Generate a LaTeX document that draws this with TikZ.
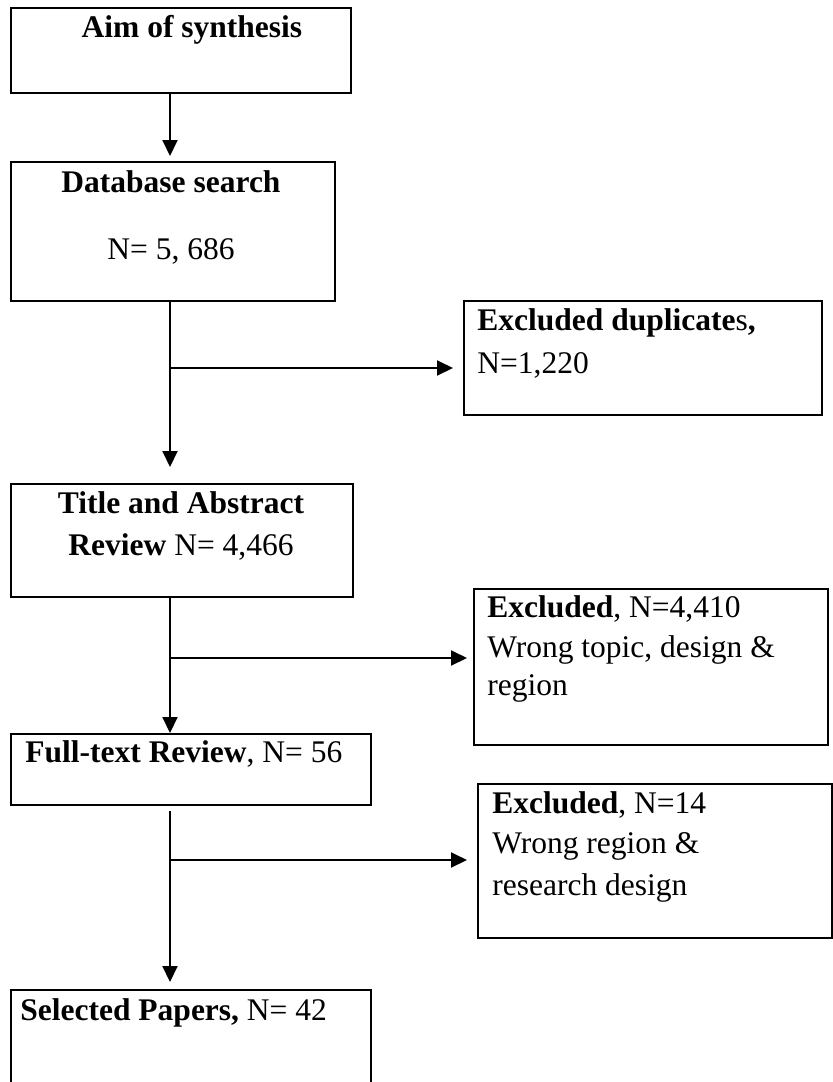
\documentclass[tikz,border=0pt]{standalone}
\usepackage{fontspec}
\setmainfont{Liberation Serif}
\usetikzlibrary{
    arrows.meta,
    positioning
}

\tikzset{
    box/.style={draw, line width=1pt, anchor=north west, inner sep=0pt},
    txt/.style={inner sep=0pt, font=\fontsize{15.75}{20}\selectfont},
    arr/.style={line width=1pt, -{Triangle[length=8pt, width=7.5pt]}}
}

\begin{document}
\begin{tikzpicture}[x=0.5pt, y=-0.5pt]
                        \useasboundingbox (0, 0) rectangle (833, 1082);

                        % boxes of the main column
                        \node[box, minimum width=170pt, minimum height=42.5pt] (aim) at (10, 7) {};
                        \node[box, minimum width=162pt, minimum height=69.5pt] (db) at (10, 161) {};
                        \node[box, minimum width=171pt, minimum height=56.5pt] (tar) at (10, 483) {};
                        \node[box, minimum width=180pt, minimum height=35.5pt] (full) at (10, 733) {};
                        \node[box, minimum width=180pt, minimum height=60pt] (sel) at (10, 989) {};

                        % boxes of the excluded records
                        \node[box, minimum width=179pt, minimum height=57pt] (dup) at (463, 300) {};
                        \node[box, minimum width=177pt, minimum height=78pt] (exta) at (473, 588) {};
                        \node[box, minimum width=177pt, minimum height=77pt] (exft) at (477, 783) {};

                        % texts
                        \node[txt, anchor=base] (aimtxt) at (192, 37) {\textbf{Aim of synthesis}};
                        \node[txt, anchor=base] (dbtxt) at (171, 192) {\textbf{Database search}};
                        \node[txt, anchor=base] (dbn) at (171, 259) {N= 5, 686};
                        \node[txt, anchor=base] (tartxt) at (181, 513) {\textbf{Title and Abstract}};
                        \node[txt, anchor=base] (tarn) at (181, 555) {\textbf{Review} N= 4,466};
                        \node[txt, anchor=base west] (fulltxt) at (25, 762) {\textbf{Full-text Review}, N= 56};
                        \node[txt, anchor=base west] (seltxt) at (20, 1020) {\textbf{Selected Papers,} N= 42};

                        \node[txt, anchor=base west] (duptxt) at (477, 330) {\textbf{Excluded duplicate}s\textbf{,}};
                        \node[txt, anchor=base west] (dupn) at (477, 373) {N=1,220};
                        \node[txt, anchor=base west] (extatxt) at (487, 617) {\textbf{Excluded}, N=4,410};
                        \node[txt, anchor=base west] (extaa) at (487, 657) {Wrong topic, design \&};
                        \node[txt, anchor=base west] (extab) at (487, 695) {region};
                        \node[txt, anchor=base west] (exfttxt) at (492, 813) {\textbf{Excluded}, N=14};
                        \node[txt, anchor=base west] (exfta) at (492, 853) {Wrong region \&};
                        \node[txt, anchor=base west] (exftb) at (492, 895) {research design};

                        % spine and branch points
                        \coordinate (spine) at (170, 0);
                        \coordinate (br1) at (170, 368);
                        \coordinate (br2) at (170, 658);
                        \coordinate (br3) at (170, 860);

                        \draw[arr, shorten >=2.5pt] (aim.south -| spine) -- (db.north -| spine);
                        \draw[arr, shorten >=8pt] (db.south -| spine) -- (tar.north -| spine);
                        \draw[arr] (tar.south -| spine) -- (full.north -| spine);
                        \draw[arr, shorten <=2.5pt, shorten >=3.5pt] (full.south -| spine) -- (sel.north -| spine);

                        \draw[arr, shorten >=5pt] (br1) -- (dup.west |- br1);
                        \draw[arr, shorten >=3pt] (br2) -- (exta.west |- br2);
                        \draw[arr, shorten >=5pt] (br3) -- (exft.west |- br3);
                    \end{tikzpicture}
\end{document}
